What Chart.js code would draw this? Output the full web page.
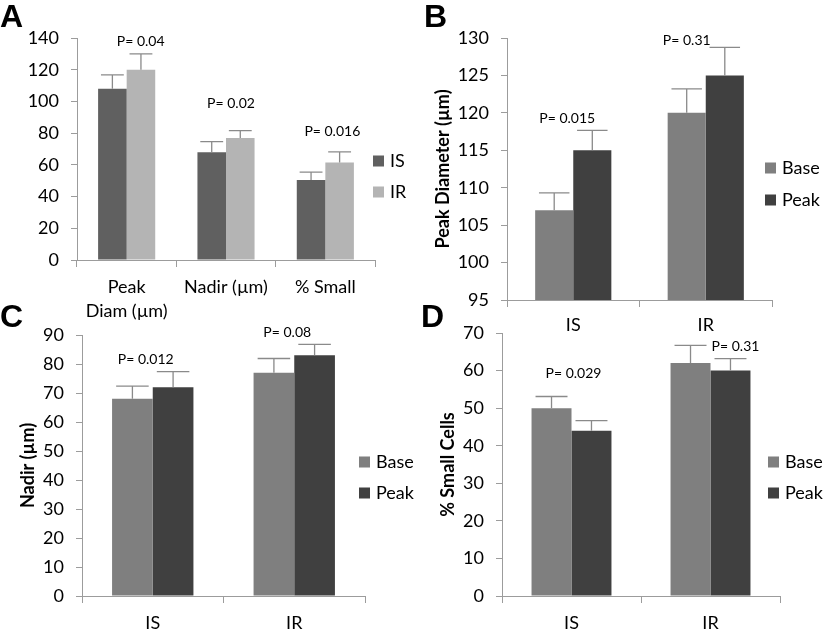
<!DOCTYPE html>
<html>
<head>
<meta charset="utf-8">
<script src="https://cdn.jsdelivr.net/npm/chart.js@4.4.1/dist/chart.umd.min.js"></script>
<style>
  body { margin: 0; background: #fff; }
  #wrap { position: relative; width: 825px; height: 630px; overflow: hidden; }
  canvas { position: absolute; }
  .tag { position: absolute; font: bold 32px "Liberation Sans", Arial, sans-serif; line-height: 1; color: #000; }
</style>
</head>
<body>
<div id="wrap">
  <canvas id="chartA" width="420" height="330" style="left:0;top:0"></canvas>
  <canvas id="chartB" width="405" height="340" style="left:420px;top:0"></canvas>
  <canvas id="chartC" width="420" height="330" style="left:0;top:300px"></canvas>
  <canvas id="chartD" width="405" height="330" style="left:420px;top:300px"></canvas>
  <div class="tag" style="left:0;top:0">A</div>
  <div class="tag" style="left:424px;top:0">B</div>
  <div class="tag" style="left:0;top:300px">C</div>
  <div class="tag" style="left:421px;top:300px">D</div>
</div>
<script>
// panel A - IS vs IR
const catsA = [['Peak', 'Diam (µm)'], 'Nadir (µm)', '% Small'];
const isA = [108, 68, 50.5];
const irA = [120, 77, 61.5];
const isErrA = [8.8, 6.7, 4.9];
const irErrA = [10, 4.6, 6.7];
const pA = ['P= 0.04', 'P= 0.02', 'P= 0.016'];

// panels B-D - base vs peak, per group
const groups = ['IS', 'IR'];
const baseB = [107, 120];
const peakB = [115, 125];
const baseErrB = [2.3, 3.2];
const peakErrB = [2.65, 3.75];
const pB = ['P= 0.015', 'P= 0.31'];

const baseC = [68, 77];
const peakC = [72, 83];
const baseErrC = [4.4, 4.9];
const peakErrC = [5.4, 3.8];
const pC = ['P= 0.012', 'P= 0.08'];

const baseD = [50, 62];
const peakD = [44, 60];
const baseErrD = [3.1, 4.7];
const peakErrD = [2.7, 3.2];
const pD = ['P= 0.029', 'P= 0.31'];

const axisGrey = '#9c9c9c';
const FONT = 'Lato, "Open Sans", sans-serif';
Chart.defaults.font.family = FONT;
Chart.defaults.color = '#000';

// error bars: only the upper half, with a cap
const errorBars = {
  id: 'errorBars',
  afterDatasetsDraw(chart, args, opts) {
    const ctx = chart.ctx;
    const y = chart.scales.y;
    ctx.save();
    ctx.strokeStyle = opts.color;
    ctx.lineWidth = 1.3;
    chart.data.datasets.forEach((ds, i) => {
      chart.getDatasetMeta(i).data.forEach((bar, j) => {
        const top = y.getPixelForValue(ds.data[j] + ds.errors[j]);
        const half = bar.width * 0.4;
        ctx.beginPath();
        ctx.moveTo(bar.x, bar.y);
        ctx.lineTo(bar.x, top);
        ctx.moveTo(bar.x - half, top);
        ctx.lineTo(bar.x + half, top);
        ctx.stroke();
      });
    });
    ctx.restore();
  }
};

const pLabels = {
  id: 'pLabels',
  afterDraw(chart, args, opts) {
    const ctx = chart.ctx;
    const { x, y } = chart.scales;
    ctx.save();
    ctx.font = '14px ' + FONT;
    ctx.fillStyle = '#000';
    ctx.textAlign = 'center';
    ctx.textBaseline = 'middle';
    opts.texts.forEach((t, i) => {
      ctx.fillText(t, x.getPixelForValue(i) + opts.dx[i], y.getPixelForValue(opts.at[i]));
    });
    ctx.restore();
  }
};

const boxLegend = {
  id: 'boxLegend',
  afterDraw(chart, args, opts) {
    const ctx = chart.ctx;
    ctx.save();
    ctx.font = '18px ' + FONT;
    ctx.textAlign = 'left';
    ctx.textBaseline = 'middle';
    chart.data.datasets.forEach((ds, i) => {
      const cy = opts.y + i * opts.gap;
      ctx.fillStyle = ds.backgroundColor;
      ctx.fillRect(opts.x, cy - 5.5, 11, 11);
      ctx.fillStyle = '#000';
      ctx.fillText(ds.label, opts.x + 17, cy);
    });
    ctx.restore();
  }
};

// box = canvas position on page, area = wanted plot area on page
function panel(id, box, area, cfg) {
  const padL = cfg.title ? cfg.titleX - box.left - 14.8 : 0;
  new Chart(document.getElementById(id), {
    type: 'bar',
    data: { labels: cfg.labels, datasets: cfg.datasets },
    options: {
      responsive: false,
      devicePixelRatio: 1,
      animation: false,
      layout: { padding: { left: padL, top: area.top - box.top, right: box.left + box.width - area.right, bottom: 0 } },
      datasets: { bar: { categoryPercentage: 0.575, barPercentage: 1, borderWidth: 0 } },
      plugins: {
        legend: { display: false },
        tooltip: { enabled: false },
        errorBars: { color: '#8a8a8a' },
        pLabels: { texts: cfg.p, at: cfg.pAt, dx: cfg.pDx },
        boxLegend: { x: cfg.legend[0] - box.left, y: cfg.legend[1] - box.top, gap: cfg.legend[2] }
      },
      scales: {
        x: {
          grid: { offset: true, drawOnChartArea: false, tickLength: 7, color: axisGrey },
          border: { color: axisGrey },
          ticks: { font: { size: 18, lineHeight: 1.35 }, padding: cfg.xPad, maxRotation: 0, autoSkip: false },
          afterFit(s) { s.height = box.top + box.height - area.bottom; }
        },
        y: {
          min: cfg.min, max: cfg.max,
          ticks: { stepSize: cfg.step, font: { size: 18 }, padding: 12 },
          grid: { drawOnChartArea: false, tickLength: 6, color: axisGrey },
          border: { color: axisGrey },
          title: cfg.title
            ? { display: true, text: cfg.title, font: { size: 18, weight: 'bold' }, padding: { top: 4, bottom: 4 } }
            : { display: false },
          afterFit(s) { s.width = area.left - box.left - padL; }
        }
      }
    },
    plugins: [errorBars, pLabels, boxLegend]
  });
}

const grey1 = '#7f7f7f', grey2 = '#404040';

panel('chartA', { left: 0, top: 0, width: 420, height: 330 }, { left: 77, top: 38, right: 375, bottom: 260 }, {
  labels: catsA,
  datasets: [
    { label: 'IS', data: isA, errors: isErrA, backgroundColor: '#606060' },
    { label: 'IR', data: irA, errors: irErrA, backgroundColor: '#b4b4b4' }
  ],
  min: 0, max: 140, step: 20, xPad: 8,
  p: pA, pAt: [138.1, 98.8, 80.9], pDx: [14, 5, 7],
  legend: [373, 161, 31]
});

panel('chartB', { left: 420, top: 0, width: 405, height: 340 }, { left: 507, top: 38, right: 772, bottom: 300 }, {
  labels: groups,
  datasets: [
    { label: 'Base', data: baseB, errors: baseErrB, backgroundColor: grey1 },
    { label: 'Peak', data: peakB, errors: peakErrB, backgroundColor: grey2 }
  ],
  min: 95, max: 130, step: 5, xPad: 6,
  title: 'Peak Diameter (µm)', titleX: 443,
  p: pB, pAt: [119.3, 129.7], pDx: [-6, -19],
  legend: [765, 168, 32]
});

panel('chartC', { left: 0, top: 300, width: 420, height: 330 }, { left: 82, top: 335, right: 365, bottom: 596 }, {
  labels: groups,
  datasets: [
    { label: 'Base', data: baseC, errors: baseErrC, backgroundColor: grey1 },
    { label: 'Peak', data: peakC, errors: peakErrC, backgroundColor: grey2 }
  ],
  min: 0, max: 90, step: 10, xPad: 8,
  title: 'Nadir (µm)', titleX: 28,
  p: pC, pAt: [81.4, 91.0], pDx: [-7, -7],
  legend: [359, 462, 31]
});

panel('chartD', { left: 420, top: 300, width: 405, height: 330 }, { left: 502, top: 333, right: 780, bottom: 596 }, {
  labels: groups,
  datasets: [
    { label: 'Base', data: baseD, errors: baseErrD, backgroundColor: grey1 },
    { label: 'Peak', data: peakD, errors: peakErrD, backgroundColor: grey2 }
  ],
  min: 0, max: 70, step: 10, xPad: 8,
  title: '% Small Cells', titleX: 448,
  p: pD, pAt: [59.1, 66.3], pDx: [2, 25],
  legend: [768, 462, 31]
});
</script>
</body>
</html>
